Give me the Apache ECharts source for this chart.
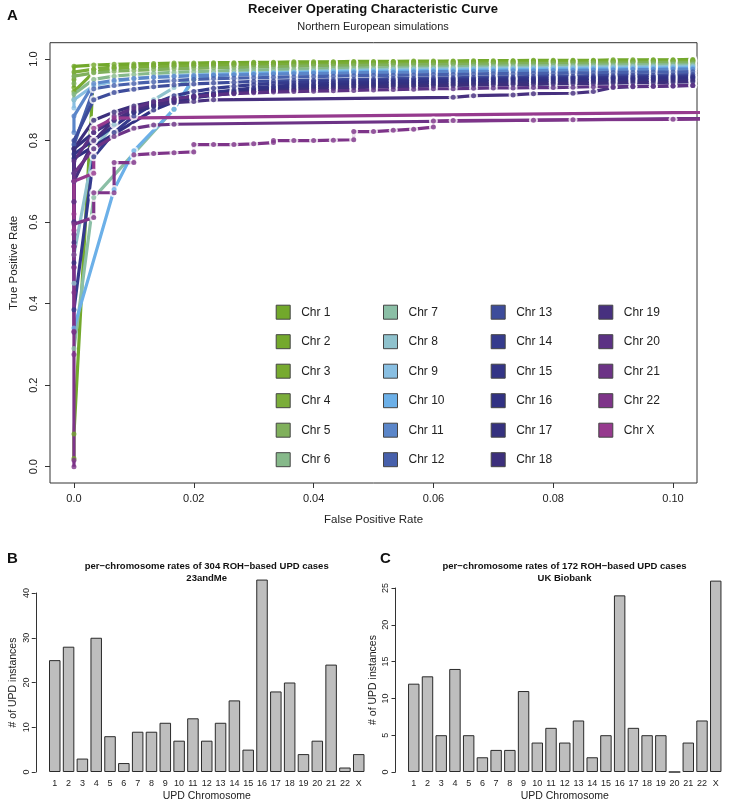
<!DOCTYPE html>
<html><head><meta charset="utf-8">
<script src="https://cdn.jsdelivr.net/npm/echarts@6/dist/echarts.min.js"></script>
<style>html,body{margin:0;padding:0;background:#fff}#c{width:729px;height:804px}</style>
</head><body><div id="c"></div>
<script>
// ---------- Panel A data: ROC curves ----------
const fprGrid = [0, 0.0033, 0.0067, 0.01, 0.0133, 0.0167, 0.02, 0.0233, 0.0267, 0.03, 0.0333, 0.0367, 0.04, 0.0433, 0.0467, 0.05, 0.0533, 0.0567, 0.06, 0.0633, 0.0667, 0.07, 0.0733, 0.0767, 0.08, 0.0833, 0.0867, 0.09, 0.0933, 0.0967, 0.1, 0.1033];
const chrNames = ['Chr 1','Chr 2','Chr 3','Chr 4','Chr 5','Chr 6','Chr 7','Chr 8','Chr 9','Chr 10','Chr 11','Chr 12','Chr 13','Chr 14','Chr 15','Chr 16','Chr 17','Chr 18','Chr 19','Chr 20','Chr 21','Chr 22','Chr X'];
const chrColors = ['#72a82b','#74a92c','#77aa2f','#7bad3a','#80b05c','#86b98a','#8bbfa6','#8fc2cd','#89bfe2','#6cb0e8','#5b86c9','#4760ab','#3d4c9b','#353b8d','#333486','#313183','#35317f','#3c2f7c','#47307f','#5b3184','#6c3386','#7e3489','#963a8e'];
// TPR values at FPR = 0 (x0) and at fprGrid[1..] (g); null = no point; [a,b] = vertical step at that FPR
const c1x0 = [0.93, 0.982];
const c1 = [0.985,0.987,0.988,0.989,0.99,0.99,0.991,0.991,0.992,0.992,0.993,0.993,0.993,0.994,0.994,0.994,0.995,0.995,0.995,0.996,0.996,0.996,0.997,0.997,0.997,0.997,0.998,0.998,0.998,0.998,0.999];
const c2x0 = [0.02, 0.08];
const c2 = [0.975,0.981,0.984,0.986,0.987,0.988,0.989,0.989,0.99,0.99,0.991,0.991,0.992,0.992,0.992,0.993,0.993,0.993,0.994,0.994,0.994,0.995,0.995,0.995,0.996,0.996,0.996,0.996,0.997,0.997,0.997];
const c3x0 = [0.92];
const c3 = [0.968,0.976,0.98,0.982,0.983,0.984,0.985,0.986,0.987,0.987,0.988,0.988,0.989,0.989,0.99,0.99,0.991,0.991,0.991,0.992,0.992,0.992,0.993,0.993,0.993,0.994,0.994,0.994,0.995,0.995,0.995];
const c4x0 = [0.95, 0.968];
const c4 = [0.975,0.978,0.98,0.981,0.982,0.983,0.984,0.985,0.985,0.986,0.986,0.987,0.987,0.988,0.988,0.989,0.989,0.99,0.99,0.99,0.991,0.991,0.991,0.992,0.992,0.992,0.993,0.993,0.993,0.994,0.994];
const c5x0 = [0.94, 0.958];
const c5 = [0.966,0.97,0.972,0.974,0.976,0.977,0.978,0.979,0.98,0.981,0.982,0.983,0.983,0.984,0.985,0.985,0.986,0.986,0.987,0.987,0.988,0.988,0.989,0.989,0.989,0.99,0.99,0.99,0.991,0.991,0.991];
const c6x0 = [0.9, 0.914];
const c6 = [0.95,0.958,0.962,0.965,0.967,0.969,0.97,0.972,0.973,0.974,0.975,0.976,0.977,0.978,0.978,0.979,0.98,0.98,0.981,0.982,0.982,0.983,0.983,0.984,0.984,0.985,0.985,0.986,0.986,0.987,0.987];
const c7x0 = [0.29];
const c7 = [0.66,null,null,null,0.877,0.95,0.962,0.965,0.967,0.968,0.97,0.971,0.972,0.973,0.974,0.975,0.976,0.977,0.977,0.978,0.979,0.979,0.98,0.98,0.981,0.981,0.982,0.982,0.983,0.983,0.984];
const c8x0 = [0.45, 0.52];
const c8 = [0.78,0.84,0.87,0.9,0.93,0.955,0.96,0.963,0.965,0.967,0.968,0.97,0.971,0.972,0.973,0.974,0.975,0.975,0.976,0.977,0.977,0.978,0.978,0.979,0.979,0.98,0.98,0.981,0.981,0.982,0.982];
const c9x0 = [0.88, 0.9];
const c9 = [0.935,0.945,0.952,0.956,0.959,0.961,0.963,0.964,0.965,0.966,0.967,0.968,0.969,0.97,0.971,0.971,0.972,0.973,0.973,0.974,0.975,0.975,0.976,0.976,0.977,0.977,0.978,0.978,0.979,0.979,0.98];
const c10x0 = [0.34];
const c10 = [null,0.68,0.775,null,0.877,0.955,0.96,0.962,0.964,0.965,0.966,0.967,0.968,0.969,0.97,0.97,0.971,0.972,0.972,0.973,0.973,0.974,0.974,0.975,0.975,0.976,0.976,0.977,0.977,0.978,0.978];
const c11x0 = [0.82, 0.86];
const c11 = [0.94,0.948,0.952,0.955,0.957,0.959,0.96,0.961,0.962,0.963,0.964,0.965,0.965,0.966,0.967,0.967,0.968,0.969,0.969,0.97,0.97,0.971,0.971,0.972,0.972,0.973,0.973,0.974,0.974,0.975,0.975];
const c12x0 = [0.7, 0.79];
const c12 = [0.927,0.935,0.94,0.944,0.947,0.95,0.952,0.953,0.954,0.955,0.956,0.957,0.958,0.959,0.96,0.96,0.961,0.962,0.962,0.963,0.964,0.964,0.965,0.965,0.966,0.966,0.967,0.967,0.968,0.968,0.969];
const c13x0 = [0.72, 0.8];
const c13 = [0.9,0.918,0.926,0.932,0.936,0.939,0.941,0.943,0.945,0.946,0.947,0.948,0.949,0.95,0.951,0.952,0.953,0.954,0.954,0.955,0.956,0.956,0.957,0.958,0.958,0.959,0.959,0.96,0.96,0.961,0.962];
const c14x0 = [0.385];
const c14 = [0.76,0.82,0.86,0.89,0.91,0.92,0.928,0.933,0.937,0.94,0.942,0.944,0.945,0.946,0.947,0.948,0.949,0.95,0.951,0.951,0.952,0.953,0.953,0.954,0.954,0.955,0.955,0.956,0.956,0.957,0.958];
const c15x0 = [0.6, 0.767];
const c15 = [null,null,0.869,0.885,0.9,0.91,0.918,0.924,0.929,0.933,0.936,0.938,0.94,0.942,0.943,0.944,0.945,0.946,0.947,0.948,0.949,0.95,0.95,0.951,0.952,0.952,0.953,0.953,0.954,0.954,0.955];
const c16x0 = [0.756];
const c16 = [null,null,null,0.875,0.895,0.905,0.913,0.92,0.925,0.929,0.932,0.934,0.936,0.938,0.939,0.94,0.941,0.942,0.943,0.944,0.945,0.946,0.946,0.947,0.948,0.948,0.949,0.95,0.95,0.951,0.952];
const c17x0 = [0.5, 0.78];
const c17 = [0.82,0.85,0.87,0.885,0.897,0.905,0.911,0.916,0.92,0.924,0.927,0.93,0.932,0.934,0.935,0.936,0.937,0.938,0.939,0.94,0.941,0.942,0.943,0.943,0.944,0.945,0.945,0.946,0.947,0.947,0.948];
const c18x0 = [0.65, 0.78];
const c18 = [0.85,0.87,0.885,0.895,0.902,0.908,0.913,0.917,0.92,0.922,0.924,0.926,0.928,0.93,0.931,0.932,0.933,0.934,0.935,0.936,0.937,0.938,0.938,0.939,0.94,0.94,0.941,0.942,0.942,0.943,0.944];
const c19x0 = [0.55, 0.7];
const c19 = [0.8,0.85,0.875,0.888,0.893,0.896,0.9,null,null,null,null,null,null,null,null,null,null,null,0.906,0.91,null,0.912,0.915,null,0.916,0.92,0.93,0.932,0.933,0.934,0.935];
const c20x0 = [0.6, 0.75];
const c20 = [0.82,0.86,0.88,0.895,0.903,0.908,0.912,0.915,0.917,0.919,0.92,0.921,0.922,0.923,0.924,0.925,0.926,0.927,0.927,0.928,0.929,0.929,0.93,0.93,0.931,0.932,0.932,0.933,0.933,0.934,0.935];
const c21x0 = [0.33, 0.49, 0.54, 0.65, 0.72];
const c21 = [0.78,0.81,0.83,0.838,0.84];
const c22x0 = [0, 0.016, 0.275, 0.332, 0.427, 0.488, 0.52, 0.54, 0.57, 0.595];
const c22 = [[0.611,0.672],[0.672,0.746],[0.746,0.765],0.768,0.77,[0.772,0.79],0.79,0.79,0.792,[0.795,0.8],0.8,0.8,0.801,[0.802,0.822],0.822,0.825,0.828,[0.833,0.848],0.849,null,null,null,0.85,null,0.851,null,null,null,null,0.852];
const cXx0 = [0.58, 0.62, 0.7];
const cX = [[0.72,0.83],0.855];
// curves whose last segment runs to (1, 1)
const tailToOne = ['Chr 21','Chr 22','Chr X'];

const rocXTicks = [0, 0.02, 0.04, 0.06, 0.08, 0.1];
const rocXTickLabels = ['0.0','0.02','0.04','0.06','0.08','0.10'];
const rocYTicks = [0, 0.2, 0.4, 0.6, 0.8, 1.0];
const rocYTickLabels = ['0.0','0.2','0.4','0.6','0.8','1.0'];

// ---------- Panels B, C data ----------
const barCats = ['1','2','3','4','5','6','7','8','9','10','11','12','13','14','15','16','17','18','19','20','21','22','X'];
const upd23andMe = [25,28,3,30,8,2,9,9,11,7,12,7,11,16,5,43,18,20,4,7,24,1,4];
const updUKBiobank = [12,13,5,14,5,2,3,3,11,4,6,4,7,2,5,24,6,5,5,0,4,7,26];
const barBTicks = [0, 10, 20, 30, 40];
const barCTicks = [0, 5, 10, 15, 20, 25];

// ---------- build ----------
const FONT = 'Liberation Sans, Arial, Helvetica, sans-serif';
const x0s = [c1x0,c2x0,c3x0,c4x0,c5x0,c6x0,c7x0,c8x0,c9x0,c10x0,c11x0,c12x0,c13x0,c14x0,c15x0,c16x0,c17x0,c18x0,c19x0,c20x0,c21x0,c22x0,cXx0];
const gs = [c1,c2,c3,c4,c5,c6,c7,c8,c9,c10,c11,c12,c13,c14,c15,c16,c17,c18,c19,c20,c21,c22,cX];

const series = [];
const whitePts = [];
const dotPts = [];
chrNames.forEach((name, i) => {
  const pts = [];
  x0s[i].forEach(v => pts.push([fprGrid[0], v]));
  gs[i].forEach((v, k) => {
    if (v === null) return;
    const x = fprGrid[k + 1];
    (Array.isArray(v) ? v : [v]).forEach(t => pts.push([x, t]));
  });
  pts.forEach(p => {
    if (p[0] > 0) whitePts.push(p);
    dotPts.push({value: p, itemStyle: {color: chrColors[i]}});
  });
  const lineData = pts.slice();
  if (tailToOne.includes(name)) lineData.push([1, 1]);
  series.push({
    type: 'line', name: name, data: lineData, xAxisIndex: 0, yAxisIndex: 0,
    showSymbol: false, symbol: 'none', clip: true, silent: true, z: 2,
    lineStyle: {color: chrColors[i], width: 3.2}, itemStyle: {color: chrColors[i]}
  });
});
series.push({type: 'scatter', name: 'gap', data: whitePts, xAxisIndex: 0, yAxisIndex: 0,
  symbol: 'circle', symbolSize: 9, itemStyle: {color: '#ffffff'}, z: 3, silent: true, clip: true});
series.push({type: 'scatter', name: 'pts', data: dotPts, xAxisIndex: 0, yAxisIndex: 0,
  symbol: 'circle', symbolSize: 5, z: 4, silent: true, clip: true});

series.push({type: 'bar', name: '23andMe', data: upd23andMe, xAxisIndex: 1, yAxisIndex: 1,
  barCategoryGap: '16.7%', clip: false, silent: true,
  itemStyle: {color: '#bebebe', borderColor: '#2a2a2a', borderWidth: 1}});
series.push({type: 'bar', name: 'UK Biobank', data: updUKBiobank, xAxisIndex: 2, yAxisIndex: 2,
  barCategoryGap: '16.7%', clip: false, silent: true,
  itemStyle: {color: '#bebebe', borderColor: '#2a2a2a', borderWidth: 1}});

const fmt = (vals, labs) => v => { const i = vals.findIndex(t => Math.abs(t - v) < 1e-9); return i >= 0 ? labs[i] : ''; };

const legCols = [270.7, 378, 485.7, 593.3];
const legends = [0,1,2,3].map(c => ({
  orient: 'vertical', left: legCols[c], top: 299.7, itemWidth: 14, itemHeight: 14, itemGap: 14.5,
  icon: 'rect', selectedMode: false, data: chrNames.slice(c * 6, Math.min(c * 6 + 6, 23)),
  itemStyle: {borderColor: '#444', borderWidth: 1},
  textStyle: {fontFamily: FONT, fontSize: 12, color: '#222', padding: [0, 0, 0, 6]}
}));

const option = {
  animation: false,
  backgroundColor: '#fff',
  title: [
    {text: 'A', left: 7, top: 8, padding: 0, textStyle: {fontFamily: FONT, fontSize: 15, fontWeight: 'bold', color: '#111'}},
    {text: 'Receiver Operating Characteristic Curve', left: 373, top: 3, padding: 0, textAlign: 'center', textStyle: {fontFamily: FONT, fontSize: 13, fontWeight: 'bold', color: '#111'}},
    {text: 'Northern European simulations', left: 373, top: 21, padding: 0, textAlign: 'center', textStyle: {fontFamily: FONT, fontSize: 11, fontWeight: 'normal', color: '#222'}},
    {text: 'B', left: 7, top: 551, padding: 0, textStyle: {fontFamily: FONT, fontSize: 15, fontWeight: 'bold', color: '#111'}},
    {text: 'per\u2212chromosome rates of 304 ROH\u2212based UPD cases', left: 206.7, top: 561, padding: 0, textAlign: 'center', textStyle: {fontFamily: FONT, fontSize: 9.5, fontWeight: 'bold', color: '#111'}},
    {text: '23andMe', left: 206.7, top: 573, padding: 0, textAlign: 'center', textStyle: {fontFamily: FONT, fontSize: 9.5, fontWeight: 'bold', color: '#111'}},
    {text: 'C', left: 380, top: 551, padding: 0, textStyle: {fontFamily: FONT, fontSize: 15, fontWeight: 'bold', color: '#111'}},
    {text: 'per\u2212chromosome rates of 172 ROH\u2212based UPD cases', left: 564.5, top: 561, padding: 0, textAlign: 'center', textStyle: {fontFamily: FONT, fontSize: 9.5, fontWeight: 'bold', color: '#111'}},
    {text: 'UK Biobank', left: 564.5, top: 573, padding: 0, textAlign: 'center', textStyle: {fontFamily: FONT, fontSize: 9.5, fontWeight: 'bold', color: '#111'}}
  ],
  legend: legends,
  grid: [
    {left: 50, right: 32, top: 42.7, height: 440.3, show: true, borderColor: '#333', borderWidth: 1, backgroundColor: 'transparent'},
    {left: 47.85, right: 363.35, top: 593, bottom: 32},
    {left: 406.9, right: 6.4, top: 588, bottom: 32}
  ],
  xAxis: [
    {gridIndex: 0, type: 'value', min: -0.004, max: 0.104, position: 'bottom',
     name: 'False Positive Rate', nameLocation: 'middle', nameGap: 31,
     nameTextStyle: {fontFamily: FONT, fontSize: 11.5, color: '#222'},
     axisLine: {show: false, onZero: false}, splitLine: {show: false},
     axisTick: {show: true, inside: false, length: 5, customValues: rocXTicks, lineStyle: {color: '#333'}},
     axisLabel: {show: true, customValues: rocXTicks, margin: 10, formatter: fmt(rocXTicks, rocXTickLabels), fontFamily: FONT, fontSize: 11, color: '#222'}},
    {gridIndex: 1, type: 'category', data: barCats, boundaryGap: true,
     name: 'UPD Chromosome', nameLocation: 'middle', nameGap: 19,
     nameTextStyle: {fontFamily: FONT, fontSize: 10.5, color: '#222'},
     axisLine: {show: false, onZero: false}, axisTick: {show: false},
     axisLabel: {interval: 0, margin: 7, fontFamily: FONT, fontSize: 9, color: '#222'}},
    {gridIndex: 2, type: 'category', data: barCats, boundaryGap: true,
     name: 'UPD Chromosome', nameLocation: 'middle', nameGap: 19,
     nameTextStyle: {fontFamily: FONT, fontSize: 10.5, color: '#222'},
     axisLine: {show: false, onZero: false}, axisTick: {show: false},
     axisLabel: {interval: 0, margin: 7, fontFamily: FONT, fontSize: 9, color: '#222'}}
  ],
  yAxis: [
    {gridIndex: 0, type: 'value', min: -0.04, max: 1.04, position: 'left',
     name: 'True Positive Rate', nameLocation: 'middle', nameGap: 30,
     nameTextStyle: {fontFamily: FONT, fontSize: 11.5, color: '#222'},
     axisLine: {show: false, onZero: false}, splitLine: {show: false},
     axisTick: {show: true, inside: false, length: 5, customValues: rocYTicks, lineStyle: {color: '#333'}},
     axisLabel: {show: true, customValues: rocYTicks, rotate: 90, margin: 11, formatter: fmt(rocYTicks, rocYTickLabels), fontFamily: FONT, fontSize: 11, color: '#222'}},
    {gridIndex: 1, type: 'value', min: 0, max: 40, interval: 10, offset: 12.1,
     name: '# of UPD instances', nameLocation: 'middle', nameGap: 17,
     nameTextStyle: {fontFamily: FONT, fontSize: 10.5, color: '#222'},
     axisLine: {show: true, onZero: false, lineStyle: {color: '#333', width: 1}}, splitLine: {show: false},
     axisTick: {show: true, inside: false, length: 4, lineStyle: {color: '#333'}},
     axisLabel: {rotate: 90, margin: 5, fontFamily: FONT, fontSize: 9, color: '#222',
       formatter: fmt(barBTicks, barBTicks.map(String))}},
    {gridIndex: 2, type: 'value', min: 0, max: 25, interval: 5, offset: 11.4,
     name: '# of UPD instances', nameLocation: 'middle', nameGap: 17,
     nameTextStyle: {fontFamily: FONT, fontSize: 10.5, color: '#222'},
     axisLine: {show: true, onZero: false, lineStyle: {color: '#333', width: 1}}, splitLine: {show: false},
     axisTick: {show: true, inside: false, length: 4, lineStyle: {color: '#333'}},
     axisLabel: {rotate: 90, margin: 5, fontFamily: FONT, fontSize: 9, color: '#222',
       formatter: fmt(barCTicks, barCTicks.map(String))}}
  ],
  series: series
};
const chart = echarts.init(document.getElementById('c'), null, {renderer: 'canvas'});
chart.setOption(option);
</script>
</body></html>
